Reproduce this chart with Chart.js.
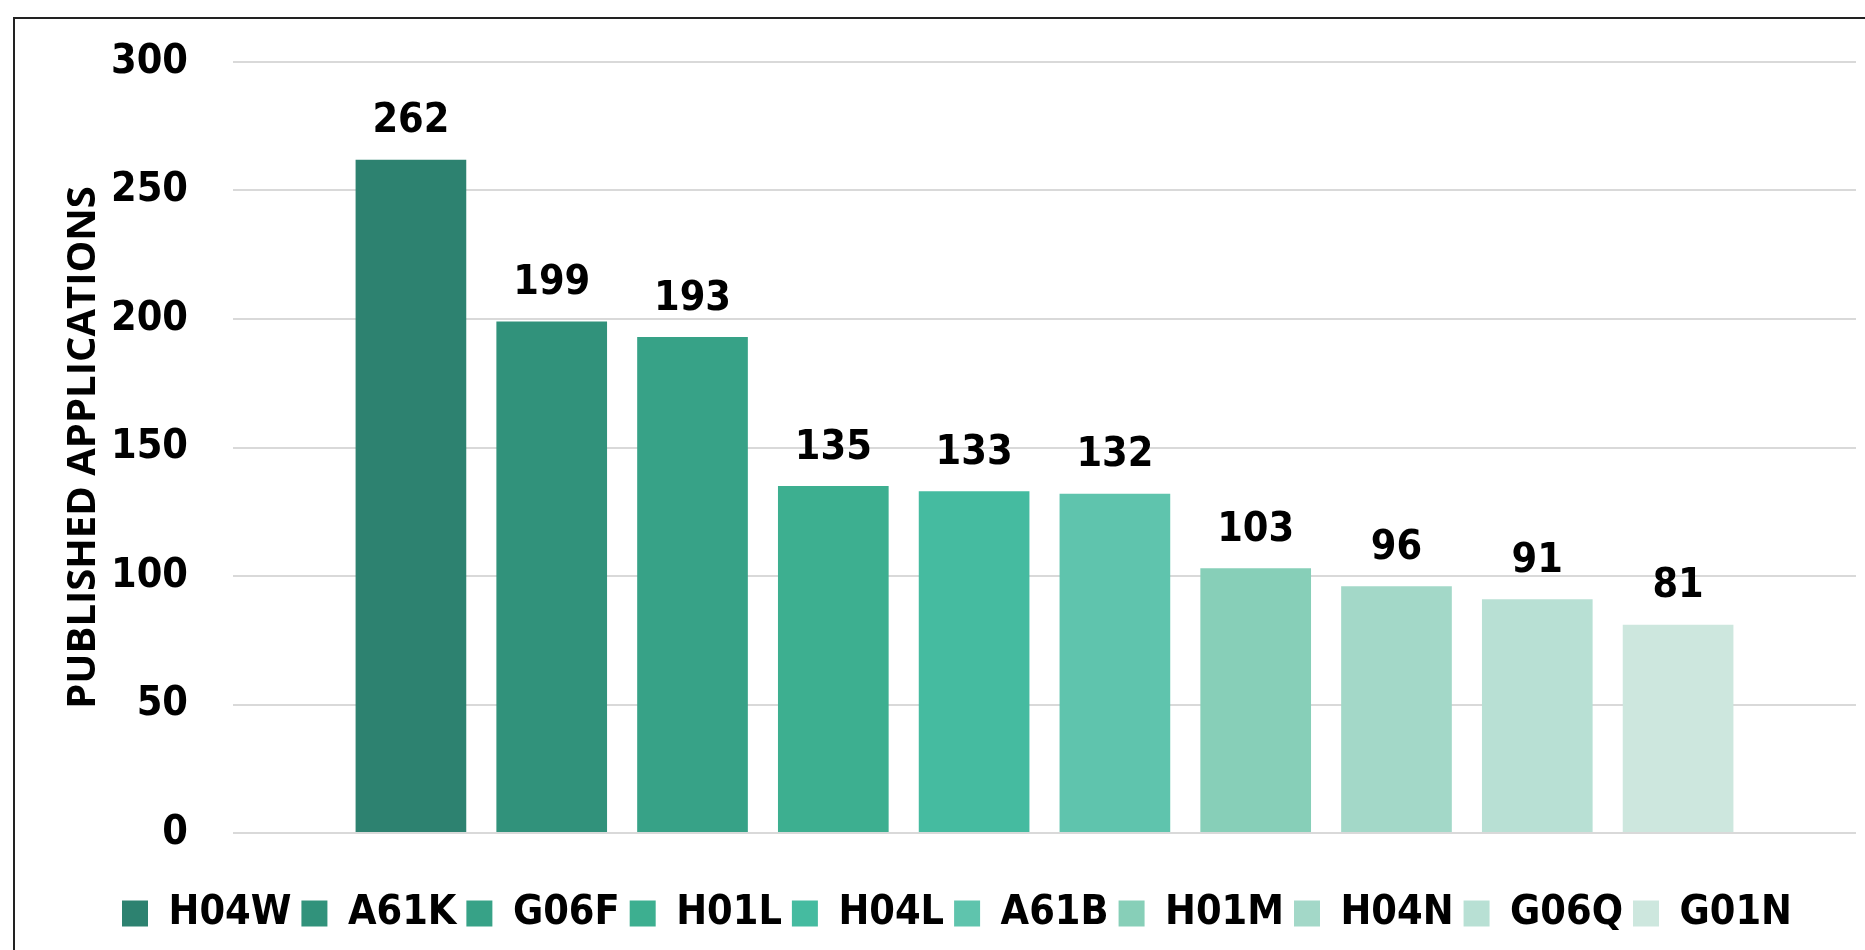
<!DOCTYPE html>
<html>
<head>
<meta charset="utf-8">
<script src="https://cdn.jsdelivr.net/npm/chart.js@4"></script>
<style>
  html, body { margin: 0; padding: 0; background: #fff; }
  #wrap { width: 1865px; height: 950px; }
</style>
</head>
<body>
<div id="wrap"><canvas id="myBarChart" width="1865" height="950"></canvas></div>
<script>
const categories = ["H04W", "A61K", "G06F", "H01L", "H04L", "A61B", "H01M", "H04N", "G06Q", "G01N"];
const values = [262, 199, 193, 135, 133, 132, 103, 96, 91, 81];
const barColors = [
    "#2D8270",
    "#31927B",
    "#37A287",
    "#3DAF90",
    "#45BBA0",
    "#5FC4AD",
    "#87CFB8",
    "#A3D8C8",
    "#B8E0D4",
    "#CDE7DE",
];
const yTicks = [0, 50, 100, 150, 200, 250, 300];

const narrow = '"Liberation Sans Narrow", "DejaVu Sans Condensed", "Arial Narrow", sans-serif';

// value labels above each bar
const barLabels = {
    id: "barLabels",
    afterDatasetsDraw(chart) {
        const ctx = chart.ctx;
        ctx.save();
        ctx.font = "bold 41px " + narrow;
        ctx.fillStyle = "#000";
        ctx.textAlign = "center";
        ctx.textBaseline = "middle";
        chart.data.datasets.forEach((ds, i) => {
            const bar = chart.getDatasetMeta(i).data[0];
            ctx.fillText(ds.data[0], bar.x, bar.y - 38);
        });
        ctx.restore();
    }
};

// outer frame (top and left edge visible)
const frame = {
    id: "frame",
    beforeDraw(chart) {
        const ctx = chart.ctx;
        ctx.save();
        ctx.strokeStyle = "#222";
        ctx.lineWidth = 2;
        ctx.beginPath();
        ctx.moveTo(14, 950);
        ctx.lineTo(14, 18);
        ctx.lineTo(1865, 18);
        ctx.stroke();
        ctx.restore();
    }
};

// legend sits a little right of the canvas centre
const legendShift = {
    id: "legendShift",
    afterLayout(chart) {
        chart.legend.left += 22;
        chart.legend.right += 22;
    }
};

new Chart("myBarChart", {
    type: "bar",
    data: {
        labels: [""],
        datasets: categories.map((c, i) => ({
            label: c,
            data: [values[i]],
            backgroundColor: barColors[i],
            categoryPercentage: 0.8675,
            barPercentage: 0.786
        }))
    },
    options: {
        responsive: false,
        animation: false,
        layout: { padding: { left: 14, right: 9, top: 62, bottom: 6 } },
        plugins: {
            tooltip: { enabled: false },
            legend: {
                position: "bottom",
                // empty title used as a spacer above the legend items
                title: {
                    display: true,
                    text: " ",
                    font: { size: 10 },
                    padding: { top: 30, bottom: 0 }
                },
                labels: {
                    boxWidth: 26,
                    boxHeight: 26,
                    padding: 10,
                    color: "#000",
                    font: { family: narrow, size: 41, weight: "bold" }
                }
            }
        },
        scales: {
            x: {
                grid: { display: false },
                border: { display: false },
                ticks: { display: false }
            },
            y: {
                min: 0,
                max: 300,
                afterBuildTicks: (scale) => { scale.ticks = yTicks.map(v => ({ value: v })); },
                afterFit: (scale) => {
                    scale.width = 233 - 14;
                    scale.paddingTop = 0;
                },
                grid: { color: "#d9d9d9", lineWidth: 2, drawTicks: false },
                border: { display: false },
                ticks: {
                    padding: 45,
                    color: "#000",
                    font: { family: narrow, size: 41, weight: "bold" }
                },
                title: {
                    display: true,
                    text: "PUBLISHED APPLICATIONS",
                    color: "#000",
                    padding: { top: 46, bottom: 0 },
                    font: { family: '"Open Sans", sans-serif', size: 40, weight: "bold" }
                }
            }
        }
    },
    plugins: [frame, legendShift, barLabels]
});
</script>
</body>
</html>
